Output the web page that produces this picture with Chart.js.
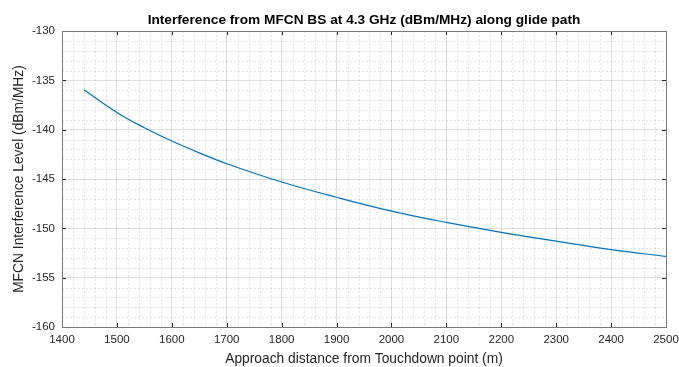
<!DOCTYPE html>
<html>
<head>
<meta charset="utf-8">
<script src="https://cdn.jsdelivr.net/npm/chart.js@4.4.0/dist/chart.umd.min.js"></script>
<style>
  html, body { margin: 0; padding: 0; background: #fff; }
</style>
</head>
<body>
<canvas id="chart" width="679" height="367"></canvas>
<script>
'use strict';

// ─── Data ────────────────────────────────────────────────────────────────────

const distances    = [1440, 1500, 1550, 1600, 1650, 1700, 1800, 1900, 2000, 2100, 2200, 2300, 2400, 2500];
const interference = [-135.95, -138.25, -139.8, -141.15, -142.35, -143.45, -145.3, -146.85, -148.25, -149.4, -150.4, -151.3, -152.15, -152.85];

const xTicks = [1400, 1500, 1600, 1700, 1800, 1900, 2000, 2100, 2200, 2300, 2400, 2500];
const yTicks = [-160, -155, -150, -145, -140, -135, -130];

const TITLE   = 'Interference from MFCN BS at 4.3 GHz (dBm/MHz) along glide path';
const X_LABEL = 'Approach distance from Touchdown point (m)';
const Y_LABEL = 'MFCN Interference Level (dBm/MHz)';

// ─── Styling ─────────────────────────────────────────────────────────────────

const FONT     = 'Arial, "Liberation Sans", Helvetica, sans-serif';
const INK      = '#262626';
const LINE     = '#0072BD';
const GRID     = 'rgba(38,38,38,0.15)';
const MINOR    = 'rgba(38,38,38,0.13)';
const X_MINOR  = 20;
const Y_MINOR  = 1;

// ─── MATLAB-ish axes box: minor grid, frame, inward ticks ────────────────────

const matlabAxes = {
  id: 'matlabAxes',
  beforeDatasetsDraw(chart) {
    const { ctx, chartArea: a, scales: { x, y } } = chart;
    ctx.save();
    ctx.strokeStyle = MINOR;
    ctx.lineWidth = 1;
    ctx.setLineDash([2, 2]);
    ctx.beginPath();
    for (let v = x.min + X_MINOR; v < x.max; v += X_MINOR) {
      if (xTicks.includes(v)) continue;
      const px = Math.round(x.getPixelForValue(v)) + 0.5;
      ctx.moveTo(px, a.top);
      ctx.lineTo(px, a.bottom);
    }
    for (let v = y.min + Y_MINOR; v < y.max; v += Y_MINOR) {
      if (yTicks.includes(v)) continue;
      const py = Math.round(y.getPixelForValue(v)) + 0.5;
      ctx.moveTo(a.left, py);
      ctx.lineTo(a.right, py);
    }
    ctx.stroke();
    ctx.restore();
  },
  afterDraw(chart) {
    const { ctx, chartArea: a, scales: { x, y } } = chart;
    const len = 4;
    ctx.save();
    ctx.strokeStyle = INK;
    ctx.lineWidth = 1;
    ctx.beginPath();
    xTicks.forEach((v) => {
      const px = Math.round(x.getPixelForValue(v)) + 0.5;
      ctx.moveTo(px, a.bottom); ctx.lineTo(px, a.bottom - len);
      ctx.moveTo(px, a.top);    ctx.lineTo(px, a.top + len);
    });
    yTicks.forEach((v) => {
      const py = Math.round(y.getPixelForValue(v)) + 0.5;
      ctx.moveTo(a.left, py);  ctx.lineTo(a.left + len, py);
      ctx.moveTo(a.right, py); ctx.lineTo(a.right - len, py);
    });
    ctx.stroke();
    ctx.strokeStyle = '#7a7a7a';
    ctx.strokeRect(Math.round(a.left) + 0.5, Math.round(a.top) + 0.5,
                   Math.round(a.right - a.left), Math.round(a.bottom - a.top));
    ctx.restore();
  },
};

// ─── Chart ───────────────────────────────────────────────────────────────────

const points = distances.map((d, i) => ({ x: d, y: interference[i] }));

new Chart(document.getElementById('chart'), {
  type: 'line',
  data: {
    datasets: [{
      data: points,
      borderColor: LINE,
      borderWidth: 1.2,
      pointRadius: 0,
      fill: false,
      tension: 0.4,
    }],
  },
  options: {
    responsive: false,
    animation: false,
    devicePixelRatio: 1,
    layout: { padding: { left: 0, right: 13, top: 0, bottom: 0 } },
    plugins: {
      legend: { display: false },
      tooltip: { enabled: false },
      title: {
        display: true,
        text: TITLE,
        fullSize: false,
        color: '#000',
        font: { family: FONT, size: 13.7, weight: 'bold' },
        padding: { top: 12, bottom: 2.6 },
      },
    },
    scales: {
      x: {
        type: 'linear',
        min: 1400,
        max: 2500,
        afterBuildTicks: (s) => { s.ticks = xTicks.map((v) => ({ value: v })); },
        afterFit: (s) => { s.height = 40; s.paddingRight = 0; s.paddingLeft = 0; },
        grid: { color: GRID, drawTicks: false },
        border: { display: false },
        ticks: {
          color: INK,
          padding: 6,
          maxRotation: 0,
          font: { family: FONT, size: 11.5 },
          callback: (v) => String(v),
        },
        title: {
          display: true,
          text: X_LABEL,
          color: INK,
          font: { family: FONT, size: 13.8 },
          padding: { top: 0, bottom: 0 },
        },
      },
      y: {
        type: 'linear',
        min: -160,
        max: -130,
        afterBuildTicks: (s) => { s.ticks = yTicks.map((v) => ({ value: v })); },
        afterFit: (s) => { s.width = 62; s.paddingTop = 0; s.paddingBottom = 0; },
        grid: { color: GRID, drawTicks: false },
        border: { display: false },
        ticks: {
          color: INK,
          padding: 7,
          font: { family: FONT, size: 11.5 },
          callback: (v) => String(v),
        },
        title: {
          display: true,
          text: Y_LABEL,
          color: INK,
          font: { family: FONT, size: 13.8 },
          padding: { top: 11, bottom: 0 },
        },
      },
    },
  },
  plugins: [matlabAxes],
});
</script>
</body>
</html>
